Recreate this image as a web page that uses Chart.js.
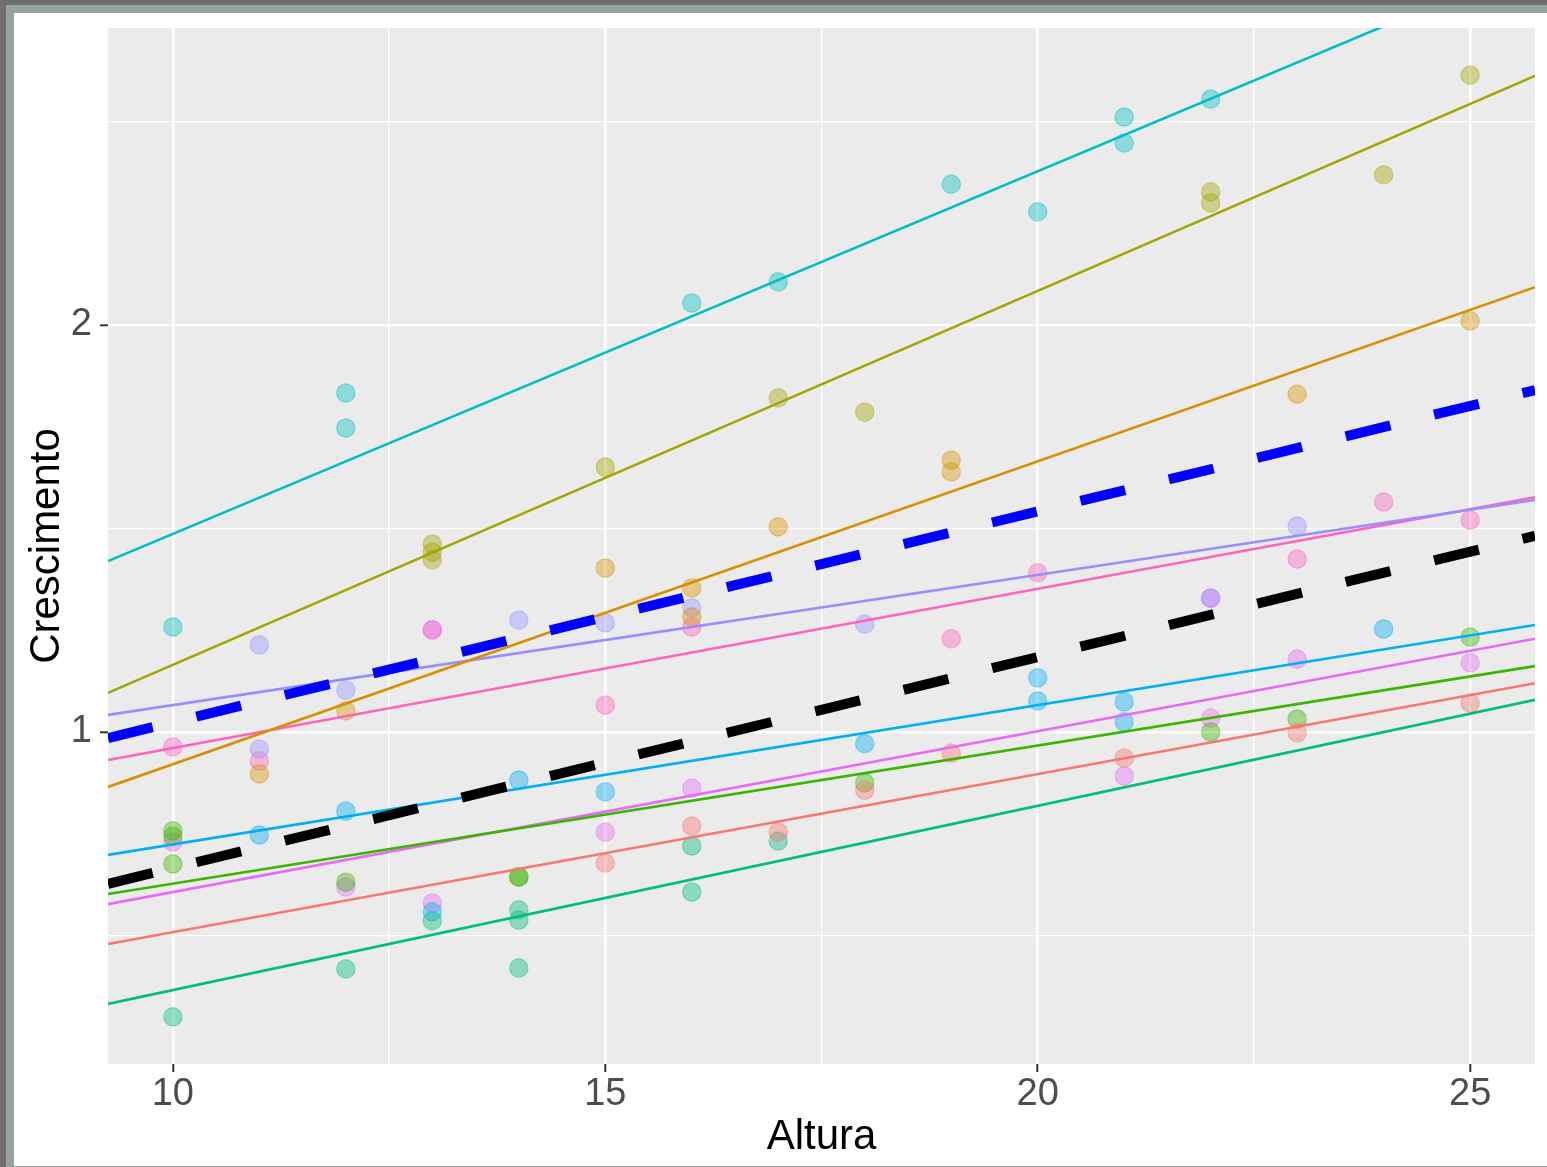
<!DOCTYPE html>
<html lang="pt">
<head>
<meta charset="utf-8">
<title>Crescimento x Altura</title>
<script src="https://cdn.jsdelivr.net/npm/chart.js@4/dist/chart.umd.min.js"></script>
<style>
  html, body { margin: 0; padding: 0; background: #ffffff; }
  #frame {
    position: absolute; left: 0; top: 0;
    width: 1547px; height: 1167px; box-sizing: border-box;
    border-left: 6px solid #6e6e6e; border-top: 5px solid #6e6e6e;
  }
  #inner {
    width: 100%; height: 100%; box-sizing: border-box;
    border-left: 8px solid #95a29f; border-top: 8px solid #95a29f; border-bottom: 1px solid #95a29f;
    background: #ffffff;
  }
  canvas { display: block; }
</style>
</head>
<body>
<div id="frame"><div id="inner"><canvas id="grafico" width="1533" height="1153"></canvas></div></div>
<script>
// Axis limits and tick values
const xLimits = [9.25, 25.75];
const yLimits = [0.1843, 2.7297];
const xMajor = [10, 15, 20, 25];
const xMinor = [12.5, 17.5, 22.5];
const yMajor = [1, 2];
const yMinor = [0.5, 1.5, 2.5];

// Observations per group: [Altura, Crescimento]
const g01 = [[15,0.678],[16,0.769],[17,0.754],[18,0.857],[19,0.948],[21,0.936],[23,0.998],[25,1.071]];
const g02 = [[11,0.897],[12,1.052],[15,1.403],[16,1.354],[16,1.283],[17,1.504],[19,1.668],[19,1.639],[23,1.830],[25,2.010]];
const g03 = [[13,1.462],[13,1.442],[13,1.423],[15,1.651],[17,1.821],[18,1.786],[22,2.327],[22,2.300],[24,2.369],[25,2.614]];
const g04 = [[10,0.757],[10,0.744],[10,0.676],[12,0.631],[14,0.644],[14,0.644],[18,0.875],[22,1.000],[23,1.032],[25,1.233]];
const g05 = [[10,0.300],[12,0.418],[13,0.536],[14,0.563],[14,0.538],[14,0.420],[16,0.720],[16,0.607],[17,0.732]];
const g06 = [[10,1.258],[12,1.833],[12,1.747],[16,2.054],[17,2.106],[19,2.346],[20,2.278],[21,2.511],[21,2.447],[22,2.555]];
const g07 = [[11,0.747],[12,0.806],[13,0.558],[14,0.882],[15,0.853],[18,0.971],[20,1.133],[20,1.076],[21,1.074],[21,1.025],[24,1.253]];
const g08 = [[11,1.214],[11,0.958],[12,1.103],[14,1.275],[15,1.268],[16,1.305],[18,1.265],[22,1.329],[23,1.506]];
const g09 = [[10,0.730],[12,0.619],[13,1.251],[13,0.580],[15,0.754],[16,0.862],[21,0.892],[22,1.329],[22,1.034],[23,1.179],[25,1.170]];
const g10 = [[10,0.963],[11,0.929],[13,1.251],[15,1.066],[16,1.258],[19,1.229],[20,1.391],[23,1.425],[24,1.565],[25,1.521]];
const groupObs = [g01, g02, g03, g04, g05, g06, g07, g08, g09, g10];

// Group regression lines, value at the left and right edges of the panel
const fitLeft  = [0.479, 0.865, 1.096, 0.602, 0.332, 1.420, 0.698, 1.042, 0.577, 0.931];
const fitRight = [1.120, 2.093, 2.612, 1.162, 1.079, 2.890, 1.263, 1.570, 1.229, 1.577];

// Overall fits (dashed)
const fitBlue  = [0.985, 1.840];
const fitBlack = [0.627, 1.482];

// Group colours (hue palette)
const palette = ['#F8766D','#D89000','#A3A500','#39B600','#00BF7D','#00BFC4','#00B0F6','#9590FF','#E76BF3','#FF62BC'];

function rgba(hex, a) {
  const n = parseInt(hex.slice(1), 16);
  return `rgba(${(n >> 16) & 255},${(n >> 8) & 255},${n & 255},${a})`;
}
const edge = (vals) => xLimits.map((x, i) => ({ x, y: vals[i] }));

const datasets = [];
datasets.push({
  data: edge(fitBlue), showLine: true, borderColor: '#0000FF', borderWidth: 10,
  borderDash: [46, 45], borderCapStyle: 'butt', pointRadius: 0, clip: 0, order: 1
});
datasets.push({
  data: edge(fitBlack), showLine: true, borderColor: '#000000', borderWidth: 10,
  borderDash: [46, 45], borderCapStyle: 'butt', pointRadius: 0, clip: 0, order: 1
});
palette.forEach((c, i) => {
  datasets.push({
    data: edge([fitLeft[i], fitRight[i]]), showLine: true, borderColor: c, borderWidth: 2.6,
    pointRadius: 0, clip: 0, order: 2
  });
});
palette.forEach((c, i) => {
  datasets.push({
    data: groupObs[i].map(([x, y]) => ({ x, y })), showLine: false,
    backgroundColor: rgba(c, 0.4), borderColor: rgba(c, 0.4), borderWidth: 1.2,
    pointRadius: 9.2, pointHoverRadius: 9.2, order: 3
  });
});

const panelBg = {
  id: 'panelBg',
  beforeDraw(chart) {
    const { ctx, chartArea: a } = chart;
    ctx.save();
    ctx.fillStyle = '#EBEBEB';
    ctx.fillRect(a.left, a.top, a.right - a.left, a.bottom - a.top);
    ctx.restore();
  }
};

const FONT = '"Liberation Sans", Arial, Helvetica, sans-serif';
const isMajor = (list, v) => list.some(m => Math.abs(m - v) < 1e-9);

function gridFor(major) {
  return {
    color: '#FFFFFF',
    lineWidth: (ctx) => isMajor(major, ctx.tick.value) ? 2.6 : 1.3,
    tickColor: (ctx) => isMajor(major, ctx.tick.value) ? '#333333' : 'rgba(0,0,0,0)',
    tickWidth: 2,
    tickLength: 8,
    drawTicks: true
  };
}

new Chart(document.getElementById('grafico'), {
  type: 'scatter',
  data: { datasets },
  plugins: [panelBg],
  options: {
    responsive: false,
    animation: false,
    devicePixelRatio: 1,
    events: [],
    layout: { padding: { top: 15, right: 12, left: 0, bottom: 0 } },
    plugins: { legend: { display: false }, tooltip: { enabled: false } },
    scales: {
      x: {
        type: 'linear', min: xLimits[0], max: xLimits[1],
        afterBuildTicks: (s) => { s.ticks = [...xMajor, ...xMinor].sort((a, b) => a - b).map(v => ({ value: v })); },
        afterFit: (s) => { s.height = 102; s.paddingLeft = 0; s.paddingRight = 0; },
        border: { display: false },
        grid: gridFor(xMajor),
        ticks: {
          autoSkip: false, maxRotation: 0, padding: 4, color: '#4D4D4D',
          font: { family: FONT, size: 38, lineHeight: 1 },
          callback: (v) => isMajor(xMajor, v) ? String(v) : ''
        },
        title: {
          display: true, text: 'Altura', color: '#000000',
          font: { family: FONT, size: 42, lineHeight: 1.2 }, padding: { top: 0, bottom: 3 }
        }
      },
      y: {
        type: 'linear', min: yLimits[0], max: yLimits[1],
        afterBuildTicks: (s) => { s.ticks = [...yMajor, ...yMinor].sort((a, b) => a - b).map(v => ({ value: v })); },
        afterFit: (s) => { s.width = 94; s.paddingTop = 0; s.paddingBottom = 0; },
        border: { display: false },
        grid: gridFor(yMajor),
        ticks: {
          autoSkip: false, padding: 8, color: '#4D4D4D',
          font: { family: FONT, size: 38, lineHeight: 1 },
          callback: (v) => isMajor(yMajor, v) ? String(v) : ''
        },
        title: {
          display: true, text: 'Crescimento', color: '#000000',
          font: { family: FONT, size: 42, lineHeight: 1.2 }, padding: { top: 8, bottom: 0 }
        }
      }
    }
  }
});
</script>
</body>
</html>
